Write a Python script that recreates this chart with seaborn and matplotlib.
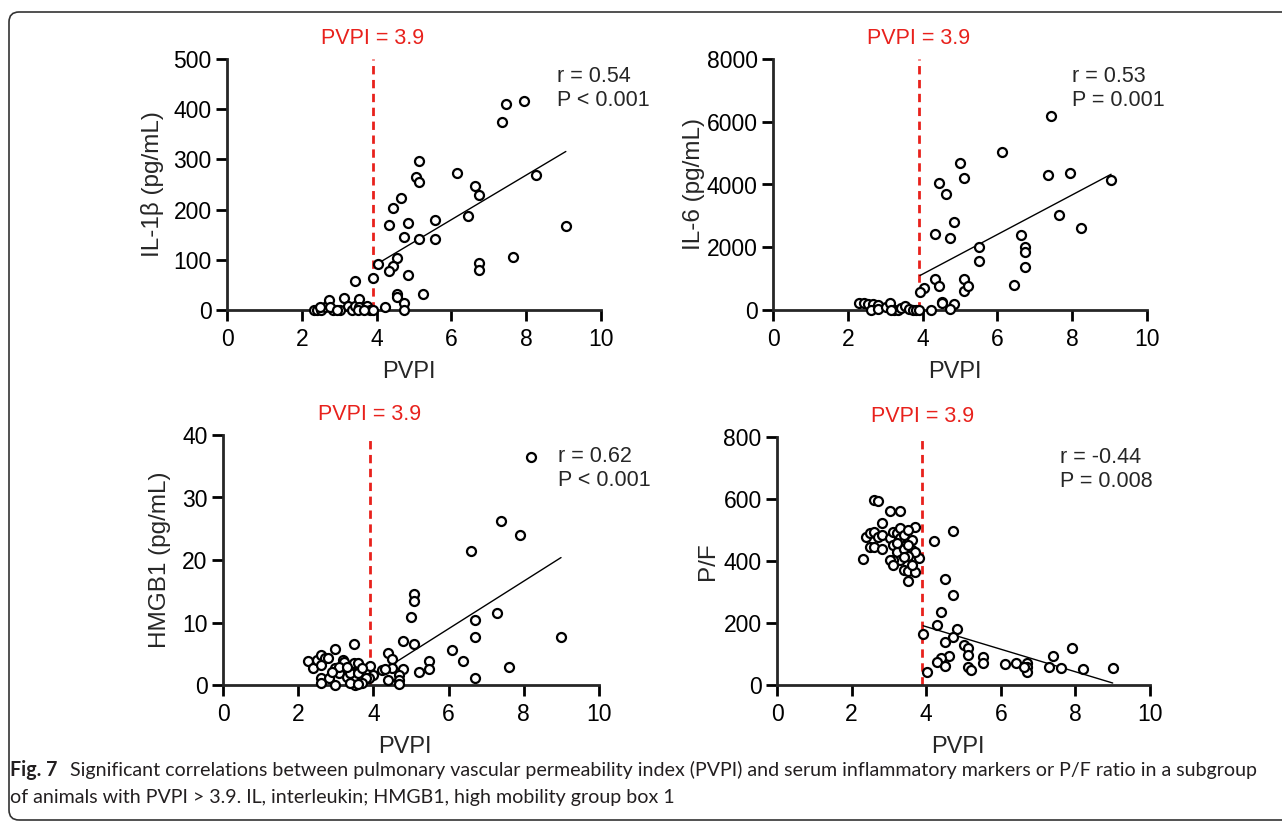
import numpy as np
import seaborn as sns
import matplotlib.pyplot as plt
import matplotlib.transforms as mtransforms
from matplotlib.patches import FancyBboxPatch

# PVPI threshold used for the subgroup
cutoff = 3.9

# IL-1beta vs PVPI
il1b_x = [7.45, 7.94, 7.35, 5.14, 5.05, 5.14, 6.14, 6.64, 6.75, 8.25,
          9.06, 4.64, 4.43, 4.34, 4.84, 5.55, 6.44, 4.74, 5.14, 5.55,
          7.65, 6.75, 6.75, 4.03, 4.54, 4.43, 4.34, 4.84, 3.90, 3.43,
          5.24, 4.54, 4.54, 4.74, 4.74, 4.23,
          2.32, 2.41, 2.52, 2.63, 2.72, 2.83, 3.03, 3.13, 3.23, 3.34,
          3.43, 3.54, 3.54, 3.74, 3.83, 3.90, 2.48, 2.76, 2.94, 3.51, 3.65]
il1b_y = [410, 416, 374, 297, 265, 255, 272, 247, 229, 269,
          168, 223, 204, 170, 174, 179, 188, 146, 141, 142,
          106, 94, 79, 91, 104, 87, 77, 69, 63, 58,
          32, 31, 25, 13, 0, 6,
          0, 0, 0, 6, 20, 0, 0, 24, 7, 0,
          7, 21, 6, 7, 0, 0, 6, 6, 0, 0, 0]

# IL-6 vs PVPI
il6_x = [7.44, 6.13, 5.01, 5.12, 7.34, 7.93, 9.04, 4.43, 4.63, 7.64,
         4.83, 4.32, 4.72, 8.23, 6.63, 6.73, 6.73, 5.52, 5.52, 6.73,
         4.32, 4.43, 5.12, 5.12, 5.22, 6.44, 4.04, 3.93, 4.52, 4.52,
         4.83, 4.73, 4.23,
         2.30, 2.42, 2.53, 2.67, 2.80, 2.62, 2.82, 3.02, 3.13, 3.23,
         3.33, 3.42, 3.53, 3.63, 3.73, 3.82, 3.90, 3.16]
il6_y = [6170, 5040, 4680, 4210, 4290, 4360, 4150, 4060, 3700, 3020,
         2790, 2430, 2280, 2610, 2380, 2010, 1860, 2010, 1560, 1370,
         990, 780, 990, 620, 750, 810, 710, 570, 270, 220,
         180, 40, 0,
         220, 220, 200, 180, 160, 10, 40, 100, 220, 10,
         10, 75, 120, 40, 10, 0, 0, 10]

# HMGB1 vs PVPI
hmgb1_x = [8.19, 7.40, 7.90, 6.60, 5.09, 5.09, 4.99, 7.29, 6.70, 6.70,
           8.99, 4.79, 5.09, 3.49, 2.99, 6.10, 6.39, 7.60, 5.49, 5.49,
           5.20, 6.70, 4.39, 4.49, 4.79, 4.69, 4.69, 4.69, 4.39, 4.49,
           4.23, 4.30, 3.90, 3.99, 3.89,
           2.27, 2.39, 2.50, 2.60, 2.70, 2.78, 2.60, 2.60, 2.60, 2.81,
           2.99, 3.09, 3.18, 3.21, 3.29, 3.39, 3.39, 3.49, 3.59, 3.59,
           3.69, 3.79, 3.69, 3.51, 2.99, 3.39, 3.09, 3.29, 2.90, 3.60]
hmgb1_y = [36.5, 26.3, 24.0, 21.5, 14.6, 13.4, 10.9, 11.6, 10.4, 7.7,
           7.7, 7.1, 6.5, 6.55, 5.7, 5.6, 3.9, 2.9, 3.9, 2.6,
           2.1, 1.07, 5.06, 4.2, 2.5, 1.6, 0.8, 0.1, 0.8, 2.7,
           2.4, 2.5, 3.0, 1.6, 1.07,
           3.8, 2.8, 4.0, 4.8, 4.4, 4.4, 3.2, 1.2, 0.4, 1.07,
           2.7, 2.0, 4.0, 3.7, 1.3, 2.9, 1.9, 3.6, 3.5, 1.9,
           2.7, 1.07, 0.27, 0.0, 0.0, 0.27, 2.9, 2.9, 2.1, 0.1]

# P/F ratio vs PVPI
pf_x = [2.60, 2.71, 3.02, 3.31, 2.81, 3.71, 4.71, 4.20, 2.30, 3.80,
        3.52, 4.51, 4.71, 4.41, 4.30, 3.92, 4.82, 4.71, 4.51, 5.00,
        5.11, 5.11, 4.62, 4.41, 4.30, 4.51, 5.11, 5.21, 5.51, 5.51,
        6.12, 6.41, 6.70, 6.70, 6.70, 6.61, 7.30, 7.40, 7.61, 7.90,
        8.20, 9.00, 4.02,
        2.39, 2.50, 2.61, 2.72, 2.50, 2.61, 2.81, 2.81, 3.02, 3.11,
        3.11, 3.21, 3.21, 3.31, 3.31, 3.41, 3.52, 3.62, 3.62, 3.71,
        3.41, 3.52, 3.31, 3.11, 3.02, 3.11, 3.41, 3.52, 3.71, 3.62,
        3.21, 3.41, 3.52]
pf_y = [596, 592, 562, 562, 524, 510, 496, 464, 408, 411,
        335, 343, 290, 237, 192, 164, 180, 155, 139, 129,
        120, 96, 93, 86, 75, 61, 58, 48, 89, 72,
        69, 71, 71, 59, 43, 59, 58, 93, 56, 120,
        53, 55, 43,
        478, 491, 494, 476, 446, 446, 440, 483, 473, 494,
        451, 489, 430, 508, 473, 483, 499, 469, 435, 430,
        440, 416, 403, 403, 403, 387, 371, 368, 365, 387,
        457, 414, 451]

ylabels = ["IL-1β (pg/mL)", "IL-6 (pg/mL)", "HMGB1 (pg/mL)", "P/F"]
y_max = [500, 8000, 40, 800]
y_step = [100, 2000, 10, 200]
r_text = ["r = 0.54", "r = 0.53", "r = 0.62", "r = -0.44"]
p_text = ["P < 0.001", "P = 0.001", "P < 0.001", "P = 0.008"]

caption_1 = ("Significant correlations between pulmonary vascular permeability index (PVPI) "
             "and serum inflammatory markers or P/F ratio in a subgroup")
caption_2 = "of animals with PVPI > 3.9. IL, interleukin; HMGB1, high mobility group box 1"

sns.set_style("ticks")
plt.rcParams['font.family'] = ['Liberation Sans', 'DejaVu Sans']

W, H = 1282, 822
RED = '#e8211c'
fig = plt.figure(figsize=(W / 100, H / 100), dpi=100)

# pixel boxes of the four plot areas (left, top, right, bottom)
boxes = [(227, 59, 601, 310), (773, 59, 1147, 310),
         (223, 435, 599, 685), (777, 437, 1150, 685)]
ylab_x = [-0.20, -0.21, -0.168, -0.185]
stat_pos = [(8.82, 0.884), (7.99, 0.884), (8.9, 0.867), (7.59, 0.868)]

data = [(il1b_x, il1b_y), (il6_x, il6_y), (hmgb1_x, hmgb1_y), (pf_x, pf_y)]

for i, (xs, ys) in enumerate(data):
    l, t, r, b = boxes[i]
    ax = fig.add_axes([l / W, 1 - b / H, (r - l) / W, (b - t) / H])
    xs = np.array(xs)
    ys = np.array(ys)

    ax.axvline(cutoff, color=RED, lw=2, ls=(0, (3, 2)), zorder=1)

    # fit only over the PVPI > 3.9 subgroup
    sub = xs > cutoff
    sns.regplot(x=xs[sub], y=ys[sub], ax=ax, scatter=False, ci=None, truncate=True,
                line_kws=dict(color='black', lw=1.0, zorder=2))

    sns.scatterplot(x=xs, y=ys, ax=ax, s=42, color='white', edgecolor='black',
                    linewidth=1.6, zorder=3, clip_on=False)

    ax.set_xlim(0, 10)
    ax.set_ylim(0, y_max[i])
    ax.set_xticks(range(0, 11, 2))
    ax.set_yticks(np.arange(0, y_max[i] + 1, y_step[i]))
    sns.despine(ax=ax)
    for s in ['left', 'bottom']:
        ax.spines[s].set_linewidth(2)
    ax.tick_params(width=2, length=8, labelsize=16.5, colors='black')
    ax.tick_params(axis='x', pad=5)
    ax.tick_params(axis='y', pad=3)

    ax.set_xlabel("PVPI", fontsize=17)
    ax.xaxis.set_label_coords(0.485, -0.248)
    ax.xaxis.label.set_va('center')
    ax.set_ylabel(ylabels[i], fontsize=17.5)
    ax.yaxis.set_label_coords(ylab_x[i], 0.5)
    ax.yaxis.label.set_va('center')

    ax.annotate("PVPI = 3.9", xy=(cutoff, 1), xycoords=('data', 'axes fraction'),
                xytext=(0, 15), textcoords='offset points', ha='center', va='center',
                color=RED, fontsize=15.5)
    trans = mtransforms.blended_transform_factory(ax.transData, ax.transAxes)
    ax.text(stat_pos[i][0], stat_pos[i][1], r_text[i] + "\n" + p_text[i], transform=trans,
            ha='left', va='center', fontsize=15.5, linespacing=1.2)

# rounded frame around the figure
frame = FancyBboxPatch((9, 2), 1320, 808, boxstyle='round,pad=0,rounding_size=10',
                       transform=None, fill=False, lw=1.2, edgecolor='#333333')
fig.add_artist(frame)

# caption, scaled so the first line fills its width
cap_font = ['Lato', 'DejaVu Sans']
t_fig = fig.text(10 / W, 1 - 770 / H, "Fig. 7", fontsize=14, fontweight='bold',
                 family=cap_font, va='center', color='#231f20')
t_l1 = fig.text(70 / W, 1 - 770 / H, caption_1, fontsize=14, family=cap_font,
                va='center', color='#231f20')
t_l2 = fig.text(10 / W, 1 - 797 / H, caption_2, fontsize=14, family=cap_font,
                va='center', color='#231f20')
fig.canvas.draw()
rend = fig.canvas.get_renderer()
w1 = t_l1.get_window_extent(rend).width
size = 14 * (1262 - 70) / w1
for tt in (t_fig, t_l1, t_l2):
    tt.set_fontsize(size)

fig.savefig("out.png", dpi=100)
